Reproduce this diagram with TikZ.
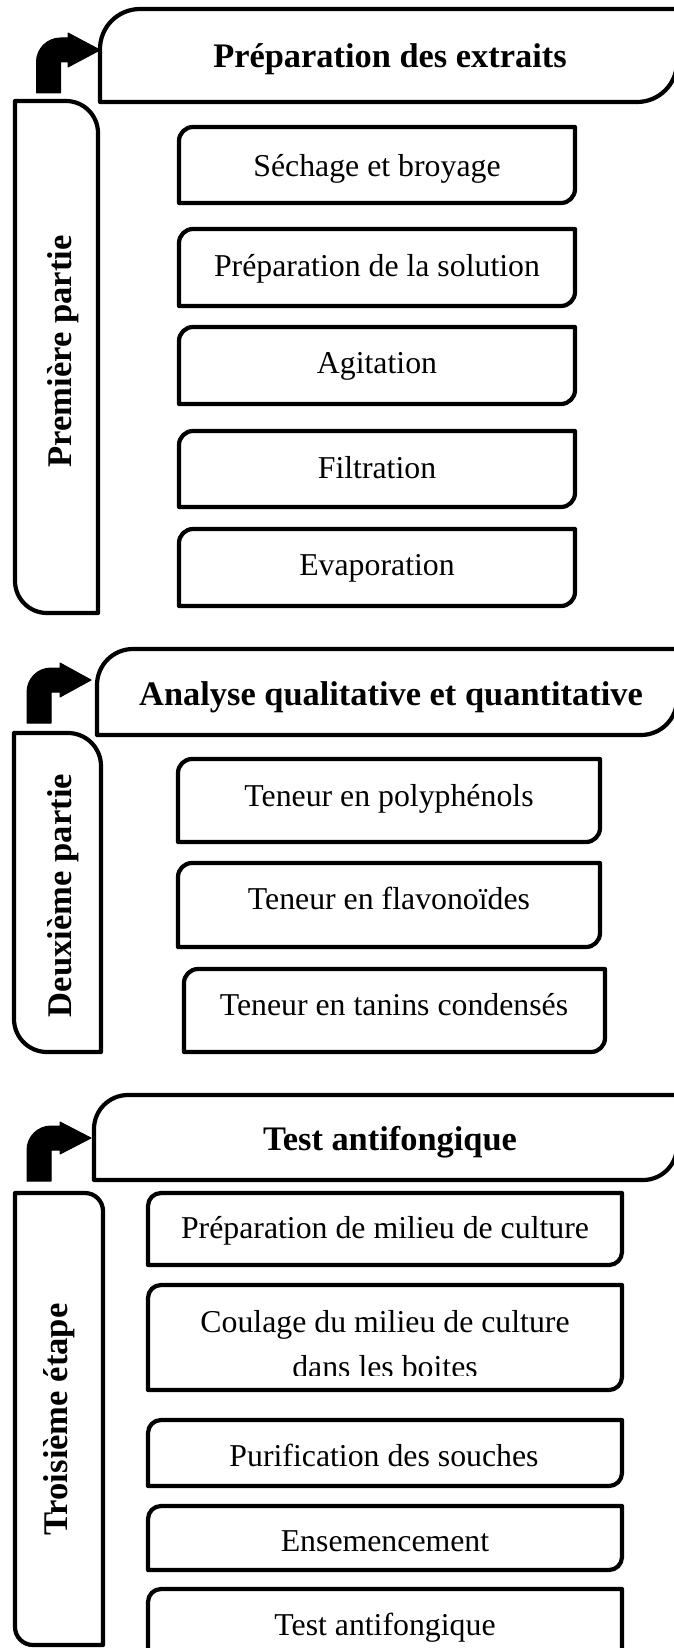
\documentclass[tikz,border=0pt]{standalone}
\usepackage{fontspec}
\setmainfont{Liberation Serif}
\tikzset{
  outline/.style={line width=4.2pt, line join=round, draw=black},
  arrowfill/.style={fill=black, draw=black, line width=1pt, line join=round},
  steptext/.style={font=\fontsize{31.8}{43}\selectfont, anchor=base, inner sep=0pt},
  headtext/.style={font=\bfseries\fontsize{34.4}{40}\selectfont, anchor=base, inner sep=0pt},
  sidetext/.style={font=\bfseries\fontsize{34.6}{40}\selectfont, anchor=base, rotate=90, inner sep=0pt},
}
% box with rounded top-left and bottom-right corners: L, T, R, B, radius
\newcommand\diagbox[5]{\draw[outline] (#1,-#4) -- (#1,{-#2-#5}) arc[start angle=180,end angle=90,radius=#5pt] -- (#3,-#2) -- (#3,{-#4+#5}) arc[start angle=0,end angle=-90,radius=#5pt] -- cycle;}
% box with rounded top-right and bottom-left corners: L, T, R, B, radius
\newcommand\sidebox[5]{\draw[outline] (#1,-#2) -- ({#3-#5},-#2) arc[start angle=90,end angle=0,radius=#5pt] -- (#3,-#4) -- ({#1+#5},-#4) arc[start angle=270,end angle=180,radius=#5pt] -- cycle;}
% bent arrow: stem left x, stem bottom y, shaft centre y, head base x, tip x, head half height
\newcommand\bentarrow[6]{\fill[arrowfill] (#1,-#2) -- (#1,{-#3-12}) arc[start angle=180,end angle=90,radius=24pt] -- (#4,{-#3+12}) -- (#4,{-#3+#6}) -- (#5,-#3) -- (#4,{-#3-#6}) -- (#4,{-#3-12}) -- ({#1+24},{-#3-12}) -- ({#1+24},-#2) -- cycle;}
\begin{document}
\begin{tikzpicture}[x=1pt,y=1pt]
\useasboundingbox (0,0) rectangle (674,-1648);
\fill[white] (0,0) rectangle (674,-1648);
\clip (0,0) rectangle (674,-1648);

% ---------------- Section 1 ----------------
\bentarrow{36.5}{93}{50}{68}{100}{17}
\diagbox{100}{9}{677}{102}{40}
\node[headtext] (h1) at (390,-68) {Préparation des extraits};
\sidebox{15}{101}{98}{613}{32}
\node[sidetext] (s1) at (71,-351.5) {Première partie};

\diagbox{179}{127}{575}{203}{14}
\node[steptext] (a1) at (377,-177) {Séchage et broyage};
\diagbox{179}{229}{575}{306}{14}
\node[steptext] (a2) at (377,-276) {Préparation de la solution};
\diagbox{179}{327}{575}{404}{14}
\node[steptext] (a3) at (377,-373) {Agitation};
\diagbox{179}{431}{575}{507}{14}
\node[steptext] (a4) at (377,-478) {Filtration};
\diagbox{179}{529}{575}{606}{14}
\node[steptext] (a5) at (377,-575) {Evaporation};

% ---------------- Section 2 ----------------
\bentarrow{27}{723}{680}{60}{91}{17}
\diagbox{97}{649}{677}{735}{36}
\node[headtext] (h2) at (391,-705) {Analyse qualitative et quantitative};
\sidebox{14}{733}{101}{1052}{33}
\node[sidetext] (s2) at (71,-895.5) {Deuxième partie};

\diagbox{178}{759}{600}{842}{14}
\node[steptext] (b1) at (389,-806) {Teneur en polyphénols};
\diagbox{178}{863}{600}{947}{14}
\node[steptext] (b2) at (389,-909) {Teneur en flavonoïdes};
\diagbox{184}{969}{605}{1052}{14}
\node[steptext] (b3) at (394,-1015) {Teneur en tanins condensés};

% ---------------- Section 3 ----------------
\bentarrow{27}{1181}{1138}{60}{91}{16}
\diagbox{94}{1095}{677}{1180}{34}
\node[headtext] (h3) at (390,-1150) {Test antifongique};
\sidebox{15}{1193}{103}{1645}{18}
\node[sidetext] (s3) at (67,-1419.5) {Troisième étape};

\diagbox{148}{1193}{622}{1265}{13}
\node[steptext] (c1) at (385,-1238) {Préparation de milieu de culture};
\diagbox{148}{1285}{622}{1390}{13}
\node[steptext] (c2a) at (385,-1332) {Coulage du milieu de culture};
\begin{scope}
\clip (0,-1340) rectangle (674,-1375);
\node[steptext] (c2b) at (385,-1377) {dans les boites};
\end{scope}
\diagbox{148}{1420}{622}{1486}{13}
\node[steptext] (c3) at (384,-1466) {Purification des souches};
\diagbox{148}{1506}{622}{1570}{13}
\node[steptext] (c4) at (385,-1551) {Ensemencement};
\diagbox{148}{1589}{622}{1690}{13}
\node[steptext] (c5) at (385,-1635) {Test antifongique};
\end{tikzpicture}
\end{document}
